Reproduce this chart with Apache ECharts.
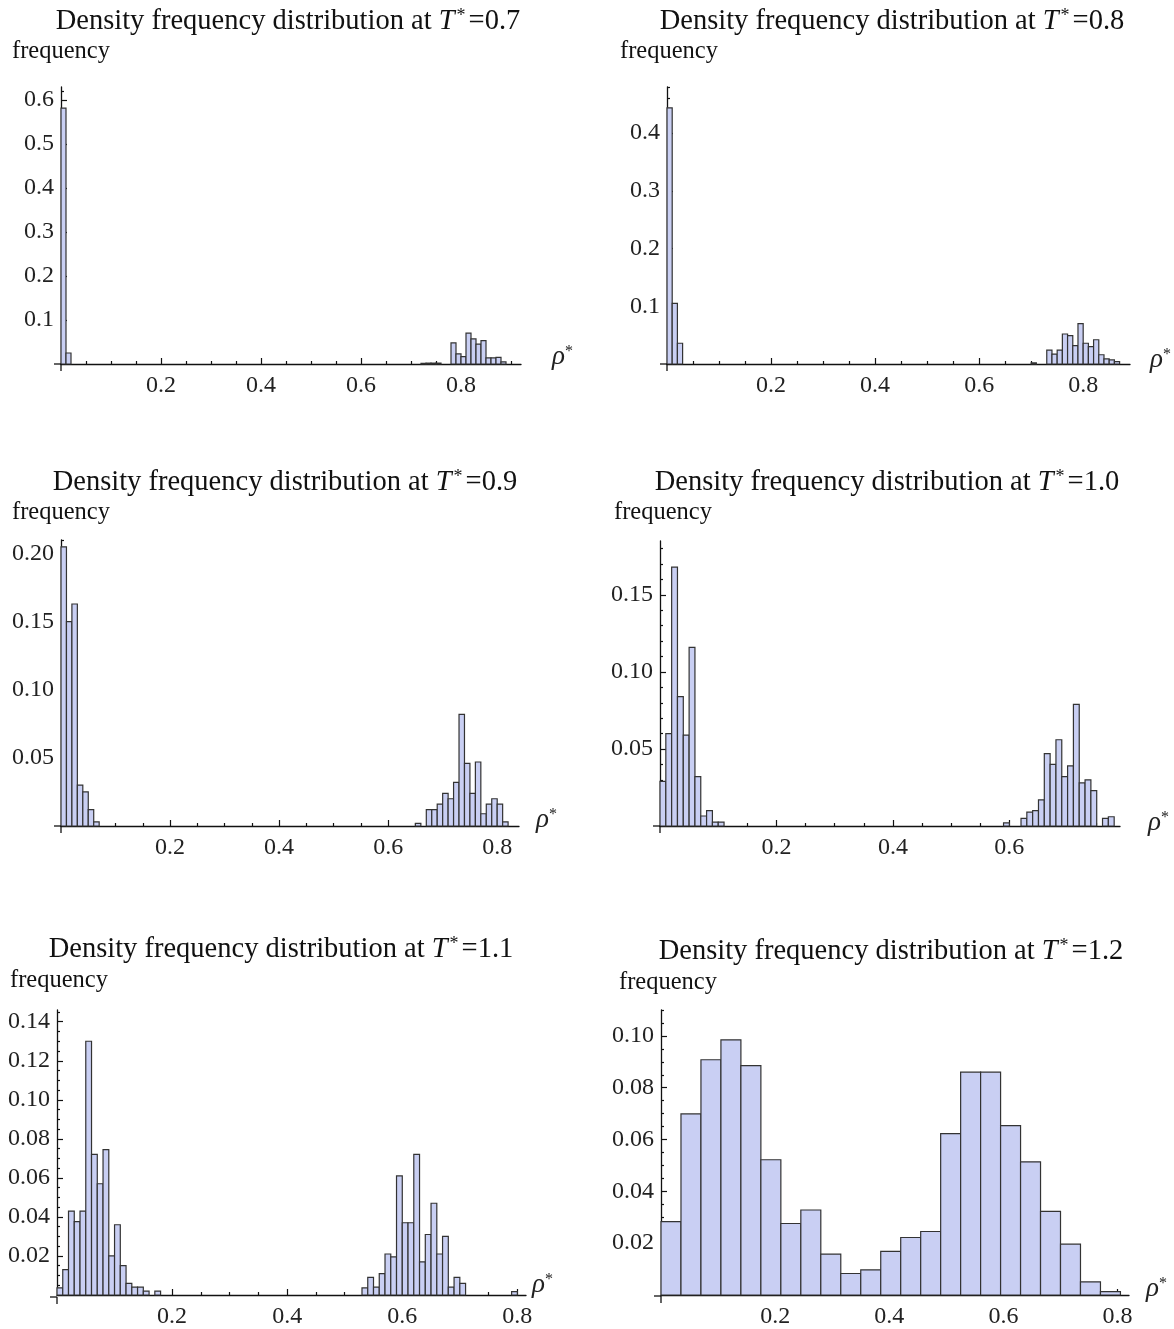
<!DOCTYPE html>
<html><head><meta charset="utf-8">
<script src="https://cdn.jsdelivr.net/npm/echarts@6/dist/echarts.min.js"></script>
<style>html,body{margin:0;padding:0;background:#fff}#c{width:1174px;height:1329px}</style>
</head><body><div id="c"></div>
<script>
// ---------------- DATA (frequencies) ----------------
const temps = ['0.7', '0.8', '0.9', '1.0', '1.1', '1.2'];

// T* = 0.7  (bin width 0.01)
const t07GasStart = 0.00;
const t07GasFreq = [0.582, 0.025];
const t07LiqStart = 0.72;
const t07LiqFreq = [0.0015, 0.002, 0.002, 0.002, 0, 0, 0.048, 0.023, 0.017, 0.070, 0.057, 0.045, 0.053, 0.014, 0.014, 0.015, 0.005];

// T* = 0.8  (bin width 0.01)
const t08GasStart = 0.00;
const t08GasFreq = [0.444, 0.105, 0.036];
const t08LiqStart = 0.70;
const t08LiqFreq = [0.002, 0, 0, 0.024, 0.017, 0.024, 0.052, 0.049, 0.032, 0.070, 0.036, 0.030, 0.042, 0.016, 0.009, 0.007, 0.004];

// T* = 0.9  (bin width 0.01)
const t09GasStart = 0.00;
const t09GasFreq = [0.205, 0.150, 0.163, 0.030, 0.025, 0.012, 0.003];
const t09LiqStart = 0.65;
const t09LiqFreq = [0.002, 0, 0.012, 0.012, 0.016, 0.024, 0.020, 0.032, 0.082, 0.046, 0.024, 0.047, 0.009, 0.016, 0.020, 0.016, 0.003];

// T* = 1.0  (bin width 0.01)
const t10GasStart = 0.00;
const t10GasFreq = [0.029, 0.060, 0.168, 0.084, 0.059, 0.116, 0.032, 0.0065, 0.010, 0.0025, 0.0025];
const t10LiqStart = 0.59;
const t10LiqFreq = [0.002, 0, 0, 0.005, 0.009, 0.010, 0.017, 0.047, 0.040, 0.056, 0.032, 0.039, 0.079, 0.028, 0.030, 0.023, 0, 0.005, 0.006];

// T* = 1.1  (bin width 0.01)
const t11GasStart = 0.00;
const t11GasFreq = [0.0037, 0.013, 0.043, 0.0376, 0.043, 0.130, 0.072, 0.057, 0.0745, 0.020, 0.036, 0.015, 0.006, 0.004, 0.004, 0.002, 0, 0.002];
const t11LiqStart = 0.53;
const t11LiqFreq = [0.0036, 0.009, 0.004, 0.011, 0.021, 0.0195, 0.061, 0.037, 0.037, 0.072, 0.017, 0.031, 0.047, 0.021, 0.030, 0.004, 0.009, 0.006, 0, 0, 0, 0, 0, 0, 0, 0, 0.0017];

// T* = 1.2  (bin width 0.035)
const t12Start = 0.00;
const t12Freq = [0.0283, 0.0699, 0.0908, 0.0985, 0.0885, 0.0522, 0.0276, 0.0328, 0.0158, 0.0083, 0.0097, 0.0168, 0.0222, 0.0245, 0.0623, 0.086, 0.086, 0.0654, 0.0514, 0.0323, 0.0196, 0.0051, 0.0013];

const binWidths = [0.01, 0.01, 0.01, 0.01, 0.01, 0.035];

// tick values
const xMajorTicks = [0.2, 0.4, 0.6, 0.8];
const xMinorTicks = [0.05, 0.1, 0.15, 0.25, 0.3, 0.35, 0.45, 0.5, 0.55, 0.65, 0.7, 0.75, 0.85, 0.9];
const yMajor07 = [0.1, 0.2, 0.3, 0.4, 0.5, 0.6];
const yMajor08 = [0.1, 0.2, 0.3, 0.4];
const yMajor09 = [0.05, 0.10, 0.15, 0.20];
const yMajor10 = [0.05, 0.10, 0.15];
const yMajor11 = [0.02, 0.04, 0.06, 0.08, 0.10, 0.12, 0.14];
const yMajor12 = [0.02, 0.04, 0.06, 0.08, 0.10];
const yMinorStep = [0.02, 0.02, 0.01, 0.01, 0.005, 0.005];

// ---------------- LAYOUT ----------------
const panels = [
  {grid: {left: 61, top: 87, width: 460, height: 277}, xMax: 0.92, yMax: 0.63, yMajor: yMajor07, dec: 1,
   segs: [[t07GasStart, t07GasFreq], [t07LiqStart, t07LiqFreq]], title: [288, 22], freq: [12, 52], rho: [552, 357]},
  {grid: {left: 667, top: 87, width: 463, height: 277}, xMax: 0.89, yMax: 0.48, yMajor: yMajor08, dec: 1,
   segs: [[t08GasStart, t08GasFreq], [t08LiqStart, t08LiqFreq]], title: [892, 22], freq: [620, 52], rho: [1150, 360]},
  {grid: {left: 61, top: 540, width: 458, height: 286}, xMax: 0.84, yMax: 0.21, yMajor: yMajor09, dec: 2,
   segs: [[t09GasStart, t09GasFreq], [t09LiqStart, t09LiqFreq]], title: [285, 483], freq: [12, 513], rho: [536, 820]},
  {grid: {left: 660, top: 541, width: 460, height: 285}, xMax: 0.79, yMax: 0.185, yMajor: yMajor10, dec: 2,
   segs: [[t10GasStart, t10GasFreq], [t10LiqStart, t10LiqFreq]], title: [887, 483], freq: [614, 513], rho: [1148, 823]},
  {grid: {left: 57, top: 1010, width: 469, height: 287}, xMax: 0.815, yMax: 0.146, yMajor: yMajor11, dec: 2,
   segs: [[t11GasStart, t11GasFreq], [t11LiqStart, t11LiqFreq]], title: [281, 950], freq: [10, 981], rho: [532, 1285]},
  {grid: {left: 661, top: 1010, width: 468, height: 286}, xMax: 0.82, yMax: 0.11, yMajor: yMajor12, dec: 2,
   segs: [[t12Start, t12Freq]], title: [891, 952], freq: [619, 983], rho: [1146, 1289]}
];

const FONT = '"Liberation Serif", "Times New Roman", serif';
const AX = '#111';
const option = {
  backgroundColor: '#fff',
  animation: false,
  grid: [], xAxis: [], yAxis: [], series: [], graphic: []
};

function range(step, max) {
  const out = [];
  for (let k = 1; k * step <= max + 1e-9; k++) out.push(+(k * step).toFixed(4));
  return out;
}

panels.forEach((p, i) => {
  option.grid.push(Object.assign({containLabel: false}, p.grid));
  const xMinor = xMinorTicks.filter(v => v < p.xMax);
  const yMinor = range(yMinorStep[i], p.yMax).filter(v => !p.yMajor.some(m => Math.abs(m - v) < 1e-6));
  const labelStyle = {fontFamily: FONT, fontSize: 24, color: '#222'};
  // main x axis
  option.xAxis.push({
    gridIndex: i, type: 'value', min: 0, max: p.xMax, position: 'bottom',
    axisLine: {show: true, onZero: false, lineStyle: {color: AX, width: 1.3}},
    axisTick: {show: true, inside: true, length: 6, customValues: xMajorTicks, lineStyle: {color: AX, width: 1.2}},
    axisLabel: Object.assign({customValues: xMajorTicks, margin: 10, formatter: v => v.toFixed(1)}, labelStyle),
    splitLine: {show: false}
  });
  option.xAxis.push({
    gridIndex: i, type: 'value', min: 0, max: p.xMax, position: 'bottom',
    axisLine: {show: false},
    axisTick: {show: true, inside: true, length: 3, customValues: xMinor, lineStyle: {color: AX, width: 1.2}},
    axisLabel: {show: false}, splitLine: {show: false}
  });
  option.yAxis.push({
    gridIndex: i, type: 'value', min: 0, max: p.yMax, position: 'left',
    axisLine: {show: true, onZero: false, lineStyle: {color: AX, width: 1.3}},
    axisTick: {show: true, inside: true, length: 6, customValues: p.yMajor, lineStyle: {color: AX, width: 1.2}},
    axisLabel: Object.assign({customValues: p.yMajor, margin: 7, formatter: v => v.toFixed(p.dec)}, labelStyle),
    splitLine: {show: false}
  });
  option.yAxis.push({
    gridIndex: i, type: 'value', min: 0, max: p.yMax, position: 'left',
    axisLine: {show: false},
    axisTick: {show: true, inside: true, length: 3, customValues: yMinor, lineStyle: {color: AX, width: 1.2}},
    axisLabel: {show: false}, splitLine: {show: false}
  });

  const bw = binWidths[i];
  const data = [];
  p.segs.forEach(([start, freqs]) => {
    freqs.forEach((f, k) => {
      if (f > 0) data.push([+(start + k * bw).toFixed(4), +(start + (k + 1) * bw).toFixed(4), f]);
    });
  });
  option.series.push({
    type: 'custom', xAxisIndex: 2 * i, yAxisIndex: 2 * i, clip: false,
    encode: {x: [0, 1], y: 2},
    data: data,
    renderItem: (params, api) => {
      const a = api.coord([api.value(0), api.value(2)]);
      const b = api.coord([api.value(1), 0]);
      return {type: 'rect', shape: {x: a[0], y: a[1], width: b[0] - a[0], height: b[1] - a[1]},
        style: {fill: '#c9cff3', stroke: '#333', lineWidth: 1.2}};
    }
  });

  // Mathematica-style axis overhang at the origin
  const g = p.grid, bx = g.left, by = g.top + g.height;
  option.graphic.push({type: 'line', z: 5, shape: {x1: bx - 7, y1: by, x2: bx, y2: by}, style: {stroke: AX, lineWidth: 1.3}});
  option.graphic.push({type: 'line', z: 5, shape: {x1: bx, y1: by, x2: bx, y2: by + 7}, style: {stroke: AX, lineWidth: 1.3}});

  // texts
  option.graphic.push({
    type: 'text', x: p.title[0], y: p.title[1], z: 10,
    style: {
      text: '{n|Density frequency distribution at }{i|T}{s|*}{n|=' + temps[i] + '}',
      align: 'center', verticalAlign: 'middle',
      rich: {
        n: {fontFamily: FONT, fontSize: 28.5, fill: '#111'},
        i: {fontFamily: FONT, fontSize: 28.5, fontStyle: 'italic', fill: '#111'},
        s: {fontFamily: FONT, fontSize: 18, verticalAlign: 'top', fill: '#111', padding: [0, 3, 0, 2]}
      }
    }
  });
  option.graphic.push({
    type: 'text', x: p.freq[0], y: p.freq[1], z: 10,
    style: {text: 'frequency', align: 'left', verticalAlign: 'middle', font: '24.5px ' + FONT, fill: '#111'}
  });
  option.graphic.push({
    type: 'text', x: p.rho[0], y: p.rho[1], z: 10,
    style: {
      text: '{r|ρ}{s|*}', align: 'left', verticalAlign: 'middle',
      rich: {
        r: {fontFamily: FONT, fontSize: 27, fontStyle: 'italic', fill: '#222'},
        s: {fontFamily: FONT, fontSize: 16, verticalAlign: 'top', fill: '#222'}
      }
    }
  });
});

const chart = echarts.init(document.getElementById('c'), null, {renderer: 'canvas'});
chart.setOption(option);
</script>
</body></html>
